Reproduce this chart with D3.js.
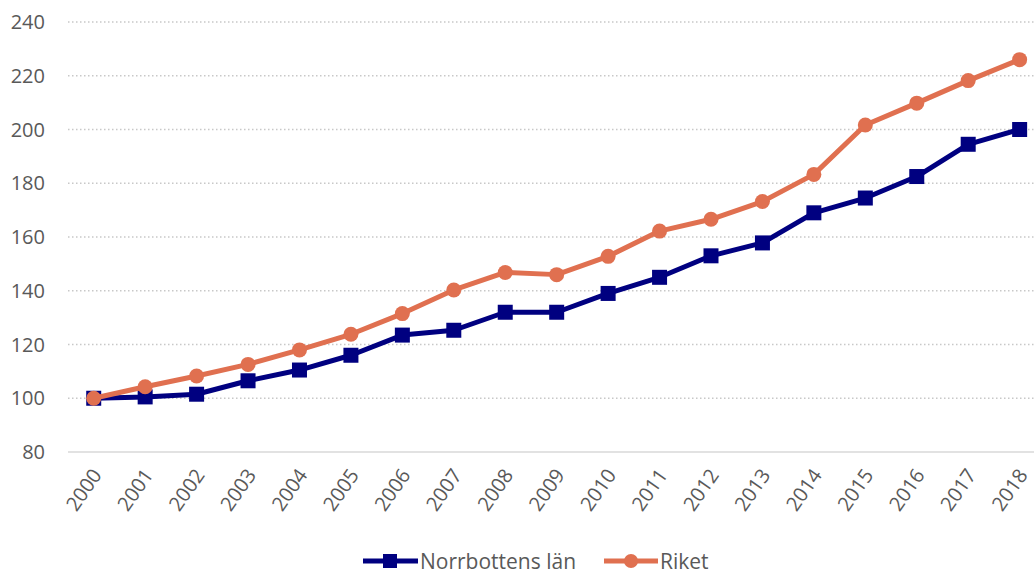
<!DOCTYPE html>
<html><head><meta charset="utf-8">
<script src="https://cdn.jsdelivr.net/npm/d3@7"></script>
<style>body{margin:0;background:#fff}svg{display:block}</style>
</head><body>
<svg id="c" width="1034" height="574"></svg>
<script>
const years = ["2000","2001","2002","2003","2004","2005","2006","2007","2008","2009","2010","2011","2012","2013","2014","2015","2016","2017","2018"];
const norrbotten = [100,100.5,101.5,106.5,110.5,116,123.5,125.3,132,132,139,145,153,157.8,169,174.5,182.5,194.5,200];
const riket = [100,104.3,108.3,112.6,118,123.8,131.5,140.3,146.8,146,152.8,162.2,166.6,173.2,183.3,201.7,209.8,218.2,226];
const yTicks = [80,100,120,140,160,180,200,220,240];
const seriesNames = ["Norrbottens län","Riket"];
const colors = ["#000080","#E07050"];

const svg = d3.select("#c");
const font = "'Open Sans', sans-serif";
const x = d3.scaleBand().domain(years).range([68, 68 + 19*51.44]);
const y = d3.scaleLinear().domain([80,240]).range([452, 22]);
const cx = d => x(d) + x.bandwidth()/2;

// gridlines
svg.append("g").selectAll("line").data(yTicks.filter(t=>t>80)).join("line")
  .attr("x1",68).attr("x2",1034).attr("y1",d=>y(d)).attr("y2",d=>y(d))
  .attr("stroke","#c8c8c8").attr("stroke-width",1.3).attr("stroke-dasharray","1.5,2.5");
svg.append("line").attr("x1",68).attr("x2",1034).attr("y1",y(80)).attr("y2",y(80))
  .attr("stroke","#d9d9d9").attr("stroke-width",1.5);

// y labels
svg.append("g").selectAll("text").data(yTicks).join("text")
  .attr("x",45).attr("y",d=>y(d)).attr("dy","0.36em").attr("text-anchor","end")
  .attr("font-family",font).attr("font-size",20).attr("fill","#595959").text(d=>d);

// x labels
svg.append("g").selectAll("text").data(years).join("text")
  .attr("transform",d=>`translate(${cx(d)+3},${y(80)+19}) rotate(-55)`)
  .attr("text-anchor","end").attr("dy","0.36em")
  .attr("font-family",font).attr("font-size",20).attr("fill","#595959").text(d=>d);

const line = d3.line().x((d,i)=>cx(years[i])).y(d=>y(d));
// Norrbotten
svg.append("path").datum(norrbotten).attr("d",line).attr("fill","none")
  .attr("stroke",colors[0]).attr("stroke-width",5).attr("stroke-linejoin","round");
svg.append("g").selectAll("rect").data(norrbotten).join("rect")
  .attr("x",(d,i)=>cx(years[i])-7.5).attr("y",d=>y(d)-7.5).attr("width",15).attr("height",15)
  .attr("fill",colors[0]);
// Riket
svg.append("path").datum(riket).attr("d",line).attr("fill","none")
  .attr("stroke",colors[1]).attr("stroke-width",5).attr("stroke-linejoin","round");
svg.append("g").selectAll("circle").data(riket).join("circle")
  .attr("cx",(d,i)=>cx(years[i])).attr("cy",d=>y(d)).attr("r",7.5).attr("fill",colors[1]);

// legend
const lg = svg.append("g");
const ly = 561;
lg.append("line").attr("x1",363).attr("x2",418).attr("y1",ly).attr("y2",ly).attr("stroke",colors[0]).attr("stroke-width",5);
lg.append("rect").attr("x",383).attr("y",ly-7).attr("width",14).attr("height",14).attr("fill",colors[0]);
lg.append("text").attr("x",420).attr("y",ly).attr("dy","0.36em").attr("font-family",font).attr("font-size",21).attr("fill","#595959").text(seriesNames[0]);
lg.append("line").attr("x1",604).attr("x2",658).attr("y1",ly).attr("y2",ly).attr("stroke",colors[1]).attr("stroke-width",5);
lg.append("circle").attr("cx",631).attr("cy",ly).attr("r",7).attr("fill",colors[1]);
lg.append("text").attr("x",660).attr("y",ly).attr("dy","0.36em").attr("font-family",font).attr("font-size",21).attr("fill","#595959").text(seriesNames[1]);
</script>
</body></html>
